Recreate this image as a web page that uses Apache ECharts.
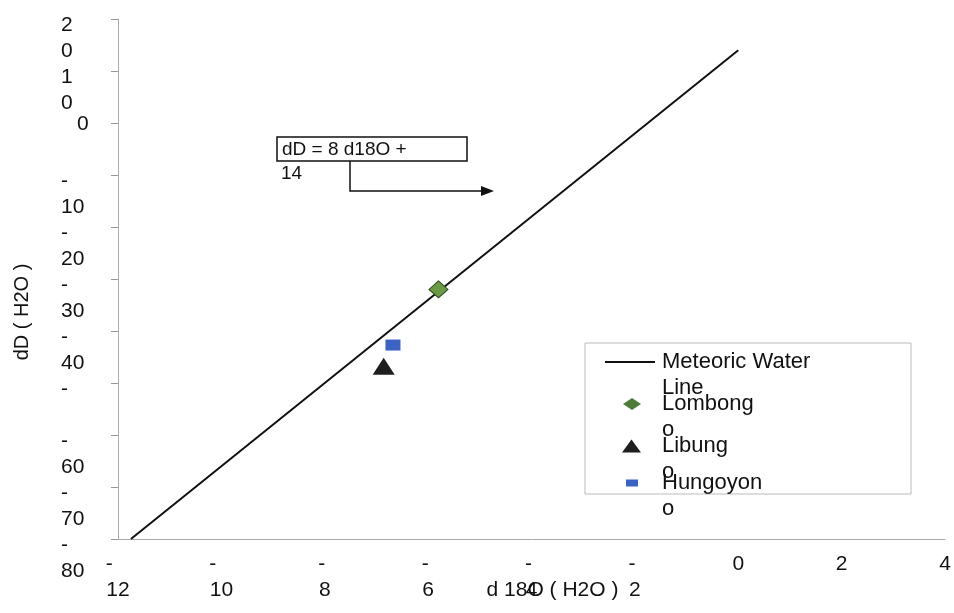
<!DOCTYPE html>
<html><head><meta charset="utf-8">
<script src="https://cdn.jsdelivr.net/npm/echarts@6/dist/echarts.min.js"></script>
<style>html,body{margin:0;padding:0;background:#fff}#c{width:954px;height:613px}</style>
</head><body><div id="c"></div>
<script>
// Data
const mwlX = [-11.75, 0];          // Meteoric Water Line: dD = 8 d18O + 14
const mwlY = [-80, 14];
const lombongo = [[-5.8, -32]];
const libungo = [[-6.86, -46.8]];
const hungoyono = [[-6.68, -42.7]];
const seriesNames = ['Meteoric Water Line', 'Lombongo', 'Libungo', 'Hungoyono'];
const legendLabels = ['Meteoric Water\nLine', 'Lombong\no', 'Libung\no', 'Hungoyon\no'];
const xTitle = 'd 18O ( H2O )';
const yTitle = 'dD ( H2O )';
const equationText = ['dD = 8 d18O +', '14'];

const FONT = "'Liberation Sans', Arial, sans-serif";
const chart = echarts.init(document.getElementById('c'));

function xLabel(v) {
  if (v < 0) {
    const a = String(Math.abs(v));
    return '-' + (a.length > 1 ? '   ' : ' ') + '\n' + a;
  }
  return String(v);
}
function yLabel(v) {
  if (v === 0) return '{z|0}';
  if (v === -50) return '{a|-}';
  const s = String(Math.abs(v));
  if (v > 0) return '{a|' + s[0] + '}\n{b|' + s[1] + '}';
  return '{a|-}\n{b|' + s + '}';
}

function legendFor(i, top, left, w, h, pl, icon, itemStyle) {
  const item = { name: seriesNames[i] };
  if (icon) item.icon = icon;
  if (itemStyle) item.itemStyle = itemStyle;
  return {
    data: [item], top: top, left: left, padding: 0,
    itemWidth: w, itemHeight: h, symbolKeepAspect: false,
    formatter: () => '\n' + legendLabels[i],
    textStyle: { fontFamily: FONT, fontSize: 22, color: '#111', lineHeight: 26, padding: [0, 0, 0, pl] },
    selectedMode: false
  };
}

chart.setOption({
  animation: false,
  backgroundColor: '#fff',
  grid: { left: 118, right: 9, top: 19, bottom: 74, outerBoundsMode: 'none', containLabel: false },
  xAxis: {
    type: 'value', min: -12, max: 4, interval: 2,
    name: xTitle, nameLocation: 'middle', nameGap: 41, nameMoveOverlap: false,
    nameTextStyle: { fontFamily: FONT, fontSize: 21, color: '#111', padding: [0, 0, 0, 42] },
    axisLine: { show: true, onZero: false, lineStyle: { color: '#aaa', width: 1 } },
    axisTick: { show: false },
    splitLine: { show: false },
    axisLabel: { formatter: xLabel, margin: 12, fontFamily: FONT, fontSize: 21, color: '#111', lineHeight: 26 }
  },
  yAxis: {
    type: 'value', min: -80, max: 20, interval: 10,
    name: yTitle, nameLocation: 'middle', nameGap: 86, nameMoveOverlap: false,
    nameTextStyle: { fontFamily: FONT, fontSize: 20, color: '#111', padding: [0, 66, 0, 0] },
    axisLine: { show: true, onZero: false, lineStyle: { color: '#aaa', width: 1 } },
    axisTick: { show: true, inside: false, length: 7, lineStyle: { color: '#999' } },
    splitLine: { show: false },
    axisLabel: {
      formatter: yLabel, margin: 57, align: 'left', verticalAlign: 'top',
      fontFamily: FONT, fontSize: 21, color: '#111',
      rich: {
        a: { fontFamily: FONT, fontSize: 21, color: '#111', lineHeight: 12 },
        b: { fontFamily: FONT, fontSize: 21, color: '#111', lineHeight: 40 },
        z: { fontFamily: FONT, fontSize: 21, color: '#111', lineHeight: 2, padding: [0, 0, 0, 16] }
      }
    }
  },
  legend: [
    legendFor(0, 323, 605, 50, 2, 2, 'path://M0,0H50V2H0Z'),
    legendFor(1, 365, 623, 18, 12, 16, null, { color: '#4e7c38', borderWidth: 0 }),
    legendFor(2, 407, 622, 19, 13, 16),
    legendFor(3, 444, 626, 12, 7, 19)
  ],
  series: [
    {
      name: seriesNames[0], type: 'line', symbol: 'none',
      data: mwlX.map((x, i) => [x, mwlY[i]]),
      lineStyle: { color: '#111', width: 2 }, itemStyle: { color: '#111' }, z: 2
    },
    {
      name: seriesNames[1], type: 'scatter', symbol: 'diamond', symbolSize: [19, 17],
      data: lombongo, itemStyle: { color: '#6a9a45', borderColor: '#2f4a1e', borderWidth: 1, opacity: 1 }, z: 3
    },
    {
      name: seriesNames[2], type: 'scatter', symbol: 'triangle', symbolSize: [22, 17],
      data: libungo, itemStyle: { color: '#1e1e1e', opacity: 1 }, z: 3
    },
    {
      name: seriesNames[3], type: 'scatter', symbol: 'rect', symbolSize: [15, 11],
      data: hungoyono, itemStyle: { color: '#3b63c4', opacity: 1 }, z: 3
    }
  ],
  graphic: [
    { type: 'rect', shape: { x: 585, y: 343, width: 326, height: 151 },
      style: { fill: 'none', stroke: '#bbb', lineWidth: 1 }, z: 0 },
    { type: 'rect', shape: { x: 277, y: 137, width: 190, height: 24 },
      style: { fill: '#fff', stroke: '#111', lineWidth: 1.5 }, z: 5 },
    { type: 'text', x: 282, y: 150, z: 6,
      style: { text: equationText[0], fontFamily: FONT, fontSize: 19, fill: '#111', verticalAlign: 'middle' } },
    { type: 'text', x: 281, y: 174, z: 6,
      style: { text: equationText[1], fontFamily: FONT, fontSize: 19, fill: '#111', verticalAlign: 'middle' } },
    { type: 'polyline', z: 5, shape: { points: [[350, 161], [350, 191], [482, 191]] },
      style: { stroke: '#111', lineWidth: 1.5, fill: 'none' } },
    { type: 'polygon', z: 5, shape: { points: [[481, 186], [494, 191], [481, 196]] },
      style: { fill: '#111' } }
  ]
});
</script>
</body></html>
